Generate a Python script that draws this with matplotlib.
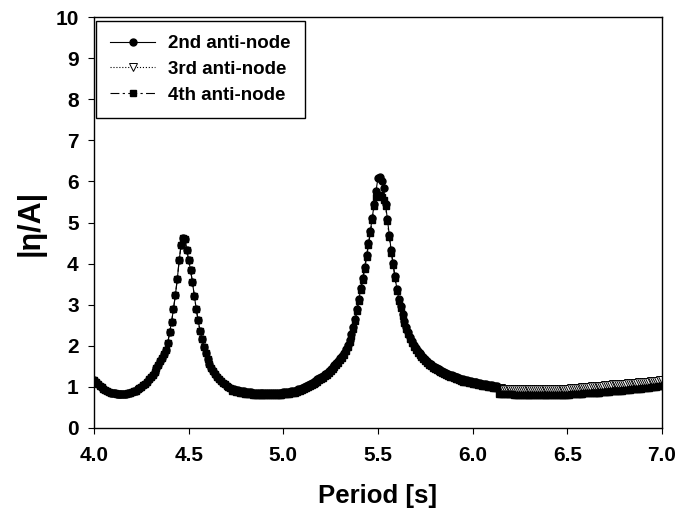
import numpy as np
import matplotlib.pyplot as plt

plt.rcParams['font.family'] = ['Liberation Sans', 'DejaVu Sans']
plt.rcParams['font.weight'] = 'bold'

# Period grids (0.01 s sampling)
period_2nd = np.round(np.arange(4.00, 6.135, 0.01), 2)   # 4.00 .. 6.13
period_3rd = np.round(np.arange(6.14, 7.005, 0.01), 2)   # 6.14 .. 7.00
period_4th = np.round(np.arange(4.00, 7.005, 0.01), 2)   # 4.00 .. 7.00

# |eta/A|
amp_2nd = [
    1.17, 1.12, 1.07, 1.03, 0.99, 0.96, 0.93, 0.90, 0.88, 0.86,  # 4.00
    0.85, 0.84, 0.83, 0.82, 0.82, 0.82, 0.82, 0.83, 0.84, 0.85,  # 4.10
    0.87, 0.89, 0.91, 0.94, 0.97, 1.00, 1.04, 1.08, 1.13, 1.18,  # 4.20
    1.24, 1.30, 1.37, 1.45, 1.54, 1.62, 1.70, 1.79, 1.90, 2.08,  # 4.30
    2.33, 2.59, 2.90, 3.24, 3.62, 4.08, 4.45, 4.63, 4.60, 4.34,  # 4.40
    4.08, 3.85, 3.55, 3.22, 2.90, 2.62, 2.37, 2.17, 1.98, 1.82,  # 4.50
    1.68, 1.56, 1.46, 1.38, 1.31, 1.25, 1.19, 1.14, 1.10, 1.06,  # 4.60
    1.03, 1.00, 0.98, 0.96, 0.94, 0.93, 0.92, 0.91, 0.90, 0.89,  # 4.70
    0.88, 0.88, 0.87, 0.87, 0.86, 0.86, 0.86, 0.86, 0.85, 0.85,  # 4.80
    0.85, 0.85, 0.85, 0.85, 0.85, 0.85, 0.86, 0.86, 0.86, 0.86,  # 4.90
    0.87, 0.87, 0.88, 0.88, 0.89, 0.90, 0.91, 0.93, 0.94, 0.96,  # 5.00
    0.98, 1.00, 1.02, 1.04, 1.07, 1.09, 1.12, 1.15, 1.18, 1.21,  # 5.10
    1.24, 1.27, 1.31, 1.35, 1.39, 1.43, 1.48, 1.53, 1.58, 1.64,  # 5.20
    1.70, 1.76, 1.83, 1.92, 2.02, 2.14, 2.28, 2.46, 2.65, 2.90,  # 5.30
    3.15, 3.40, 3.66, 3.92, 4.20, 4.50, 4.80, 5.12, 5.45, 5.78,  # 5.40
    6.08, 6.12, 6.00, 5.85, 5.45, 5.08, 4.70, 4.32, 4.02, 3.69,  # 5.50
    3.38, 3.15, 2.97, 2.78, 2.60, 2.46, 2.33, 2.21, 2.11, 2.02,  # 5.60
    1.95, 1.88, 1.82, 1.77, 1.72, 1.67, 1.63, 1.59, 1.56, 1.52,  # 5.70
    1.49, 1.46, 1.43, 1.41, 1.38, 1.36, 1.34, 1.32, 1.30, 1.28,  # 5.80
    1.26, 1.24, 1.23, 1.21, 1.20, 1.18, 1.17, 1.16, 1.15, 1.14,  # 5.90
    1.13, 1.12, 1.11, 1.10, 1.09, 1.08, 1.07, 1.06, 1.05, 1.05,  # 6.00
    1.04, 1.03, 1.03, 1.02,                                      # 6.10
]

amp_3rd = [
    0.97, 0.97, 0.96, 0.96, 0.96, 0.96,                          # 6.14
    0.95, 0.95, 0.95, 0.95, 0.95, 0.94, 0.94, 0.94, 0.94, 0.94,  # 6.20
    0.94, 0.94, 0.94, 0.94, 0.94, 0.94, 0.94, 0.94, 0.94, 0.94,  # 6.30
    0.94, 0.94, 0.94, 0.95, 0.95, 0.95, 0.95, 0.95, 0.96, 0.96,  # 6.40
    0.96, 0.96, 0.97, 0.97, 0.97, 0.98, 0.98, 0.98, 0.99, 0.99,  # 6.50
    0.99, 1.00, 1.00, 1.01, 1.01, 1.01, 1.02, 1.02, 1.03, 1.03,  # 6.60
    1.04, 1.04, 1.05, 1.05, 1.06, 1.06, 1.06, 1.07, 1.07, 1.08,  # 6.70
    1.08, 1.08, 1.09, 1.09, 1.09, 1.10, 1.10, 1.10, 1.11, 1.11,  # 6.80
    1.12, 1.12, 1.13, 1.13, 1.14, 1.14, 1.14, 1.15, 1.15, 1.16,  # 6.90
    1.16,                                                        # 7.00
]

# 4th anti-node follows the 2nd one up to 4.72 s
amp_4th = amp_2nd[:73] + [
    0.91, 0.89, 0.88, 0.87, 0.86, 0.85, 0.84,                    # 4.73
    0.83, 0.83, 0.82, 0.82, 0.81, 0.81, 0.81, 0.81, 0.80, 0.80,  # 4.80
    0.80, 0.80, 0.80, 0.80, 0.80, 0.80, 0.81, 0.81, 0.81, 0.81,  # 4.90
    0.82, 0.82, 0.83, 0.83, 0.84, 0.85, 0.86, 0.88, 0.89, 0.91,  # 5.00
    0.93, 0.95, 0.97, 0.99, 1.02, 1.04, 1.07, 1.10, 1.13, 1.16,  # 5.10
    1.19, 1.22, 1.26, 1.30, 1.34, 1.38, 1.43, 1.48, 1.53, 1.59,  # 5.20
    1.65, 1.71, 1.78, 1.87, 1.97, 2.09, 2.23, 2.41, 2.60, 2.85,  # 5.30
    3.10, 3.35, 3.61, 3.87, 4.15, 4.45, 4.75, 5.07, 5.40, 5.62,  # 5.40
    5.68, 5.66, 5.62, 5.55, 5.40, 5.03, 4.65, 4.27, 3.97, 3.64,  # 5.50
    3.33, 3.10, 2.92, 2.73, 2.55, 2.41, 2.28, 2.16, 2.06, 1.97,  # 5.60
    1.90, 1.83, 1.77, 1.72, 1.67, 1.62, 1.58, 1.54, 1.51, 1.47,  # 5.70
    1.44, 1.41, 1.38, 1.36, 1.33, 1.31, 1.29, 1.27, 1.25, 1.23,  # 5.80
    1.21, 1.19, 1.18, 1.16, 1.15, 1.13, 1.12, 1.11, 1.10, 1.09,  # 5.90
    1.08, 1.07, 1.06, 1.05, 1.04, 1.03, 1.02, 1.01, 1.00, 1.00,  # 6.00
    0.99, 0.98, 0.98, 0.97,                                      # 6.10
    0.83, 0.83, 0.83, 0.82, 0.82, 0.82,                          # 6.14
    0.82, 0.82, 0.81, 0.81, 0.81, 0.81, 0.81, 0.81, 0.81, 0.81,  # 6.20
    0.81, 0.81, 0.81, 0.81, 0.81, 0.81, 0.81, 0.81, 0.81, 0.81,  # 6.30
    0.81, 0.81, 0.81, 0.81, 0.81, 0.81, 0.81, 0.81, 0.81, 0.81,  # 6.40
    0.81, 0.81, 0.82, 0.82, 0.82, 0.82, 0.83, 0.83, 0.83, 0.84,  # 6.50
    0.84, 0.84, 0.85, 0.85, 0.85, 0.86, 0.86, 0.86, 0.87, 0.87,  # 6.60
    0.87, 0.88, 0.88, 0.89, 0.89, 0.89, 0.90, 0.90, 0.91, 0.91,  # 6.70
    0.92, 0.92, 0.93, 0.93, 0.94, 0.94, 0.95, 0.95, 0.96, 0.96,  # 6.80
    0.97, 0.97, 0.98, 0.98, 0.99, 0.99, 1.00, 1.00, 1.01, 1.01,  # 6.90
    1.02,                                                        # 7.00
]

labels = ['2nd anti-node', '3rd anti-node', '4th anti-node']
x_ticks = [4.0, 4.5, 5.0, 5.5, 6.0, 6.5, 7.0]
y_ticks = list(range(0, 11))

fig = plt.figure(figsize=(6.81, 5.20), dpi=100)
ax = fig.add_axes([0.138, 0.177, 0.834, 0.790])

ax.plot(period_2nd, amp_2nd, color='black', lw=0.8, ls='-',
        marker='o', ms=5.0, mfc='black', mec='black', label=labels[0])
ax.plot(period_3rd, amp_3rd, color='black', lw=0.8, ls=':',
        marker='v', ms=5.2, mfc='white', mec='black', mew=0.7, label=labels[1])
ax.plot(period_4th, amp_4th, color='black', lw=0.8, ls=(0, (8, 3, 2, 3)),
        marker='s', ms=4.8, mfc='black', mec='black', label=labels[2])

ax.set_xlim(4.0, 7.0)
ax.set_ylim(0, 10)
ax.set_xticks(x_ticks)
ax.set_xticklabels([f'{v:.1f}' for v in x_ticks])
ax.set_yticks(y_ticks)
ax.tick_params(direction='out', length=4, width=0.8, labelsize=15)
ax.tick_params(axis='x', pad=9)
ax.tick_params(axis='y', pad=7)
for s in ax.spines.values():
    s.set_linewidth(1.0)

ax.set_xlabel('Period [s]', fontsize=18.5, fontweight='bold', labelpad=14)
ax.set_ylabel('|η/A|', fontsize=22, fontweight='bold', labelpad=7)

leg = ax.legend(loc='upper left', bbox_to_anchor=(0.004, 0.99), fancybox=False,
                edgecolor='black', framealpha=1, fontsize=13.5, handlelength=2.4,
                numpoints=1, borderpad=0.75, labelspacing=0.45, handletextpad=0.7,
                borderaxespad=0)
leg.get_frame().set_linewidth(1.0)

fig.savefig('out.png', dpi=100)
